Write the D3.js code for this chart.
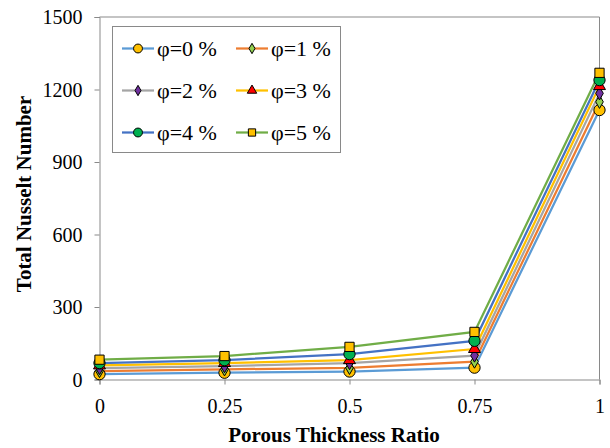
<!DOCTYPE html>
<html>
<head>
<meta charset="utf-8">
<script src="https://cdn.jsdelivr.net/npm/d3@7"></script>
</head>
<body style="margin:0;padding:0;background:#fff">
<svg id="chart" width="610" height="448" style="display:block"></svg>
<script>
// ---- data ----
const xValues = [0, 0.25, 0.5, 0.75, 1];
const xTickLabels = ["0", "0.25", "0.5", "0.75", "1"];
const yTicks = [0, 300, 600, 900, 1200, 1500];
const seriesNames = ["φ=0 %", "φ=1 %", "φ=2 %", "φ=3 %", "φ=4 %", "φ=5 %"];
const phi0 = [22, 28, 33, 49, 1115];
const phi1 = [35, 42, 48, 74, 1149];
const phi2 = [47, 55, 68, 99, 1184];
const phi3 = [58, 68, 80, 126, 1214];
const phi4 = [68, 80, 105, 160, 1239];
const phi5 = [82, 97, 135, 197, 1269];
const seriesValues = [phi0, phi1, phi2, phi3, phi4, phi5];
const lineColors = ["#5B9BD5", "#ED7D31", "#A5A5A5", "#FFC000", "#4472C4", "#70AD47"];
const markerFills = ["#FFC000", "#92D050", "#7030A0", "#FF0000", "#00B050", "#FFC000"];
const markerShapes = ["circle", "diamond", "diamond", "triangle", "circle", "square"];

// ---- layout ----
const FONT = "Liberation Serif";
const svg = d3.select("#chart");
const mLeft = 99.5, mRight = 599.5, mTop = 17, mBottom = 379.5;
const x = d3.scaleLinear().domain([0, 1]).range([mLeft, mRight]);
const y = d3.scaleLinear().domain([0, 1500]).range([mBottom, mTop]);

const symbolSizes = { circle: 100, diamond: 50, triangle: 62, square: 85 };
const symbolTypes = { circle: d3.symbolCircle, diamond: d3.symbolDiamond, triangle: d3.symbolTriangle, square: d3.symbolSquare };
const sym = (shape, k) => d3.symbol().type(symbolTypes[shape]).size(symbolSizes[shape] * k)();

// plot border (top & right)
svg.append("path")
  .attr("d", `M${mLeft},${mTop}H${mRight}V${mBottom}`)
  .attr("fill", "none").attr("stroke", "#898989").attr("stroke-width", 1);

// axes
const yAxis = d3.axisLeft(y).tickValues(yTicks).tickSize(5).tickPadding(12).tickFormat(d3.format("d"));
const gy = svg.append("g").attr("transform", `translate(${mLeft},0)`).call(yAxis)
  .attr("font-family", FONT).attr("font-size", 20);
gy.select(".domain").attr("stroke", "#898989");
gy.selectAll(".tick line").attr("stroke", "#898989");
gy.selectAll(".tick text").attr("font-family", FONT).attr("font-size", 20).attr("fill", "#000").attr("dy", "0.34em");

const xAxis = d3.axisBottom(x).tickValues(xValues).tickSize(5).tickPadding(14)
  .tickFormat((d, i) => xTickLabels[i]);
const gx = svg.append("g").attr("transform", `translate(0,${mBottom})`).call(xAxis)
  .attr("font-family", FONT).attr("font-size", 20);
gx.select(".domain").attr("stroke", "#898989");
gx.selectAll(".tick line").attr("stroke", "#898989");
gx.selectAll(".tick text").attr("font-family", FONT).attr("font-size", 20).attr("fill", "#000");

// axis titles
svg.append("text")
  .attr("x", 334).attr("y", 442)
  .attr("text-anchor", "middle")
  .attr("font-family", FONT).attr("font-size", 21).attr("font-weight", "bold")
  .text("Porous Thickness Ratio");
svg.append("text")
  .attr("transform", `translate(31,194) rotate(-90)`)
  .attr("text-anchor", "middle")
  .attr("font-family", FONT).attr("font-size", 21).attr("font-weight", "bold")
  .text("Total Nusselt Number");

// series lines
const line = d3.line().x((d, i) => x(xValues[i])).y(d => y(d));
seriesValues.forEach((vals, s) => {
  svg.append("path").datum(vals)
    .attr("d", line)
    .attr("fill", "none")
    .attr("stroke", lineColors[s])
    .attr("stroke-width", 2.25);
});
// markers (drawn after all lines)
seriesValues.forEach((vals, s) => {
  svg.append("g").selectAll("path").data(vals).join("path")
    .attr("d", sym(markerShapes[s], 1))
    .attr("transform", (d, i) => `translate(${x(xValues[i])},${y(d)})`)
    .attr("fill", markerFills[s])
    .attr("stroke", "#000").attr("stroke-width", 1);
});

// legend
const legend = svg.append("g");
legend.append("rect")
  .attr("x", 112.5).attr("y", 26.5).attr("width", 228).attr("height", 126)
  .attr("fill", "#fff").attr("stroke", "#898989").attr("stroke-width", 1);
const colX = [122, 236];
const rowY = [48.5, 90.5, 132.5];
seriesNames.forEach((name, s) => {
  const cx = colX[s % 2], cy = rowY[Math.floor(s / 2)];
  legend.append("line")
    .attr("x1", cx).attr("x2", cx + 32).attr("y1", cy).attr("y2", cy)
    .attr("stroke", lineColors[s]).attr("stroke-width", 2.25);
  legend.append("path")
    .attr("d", sym(markerShapes[s], 0.62))
    .attr("transform", `translate(${cx + 16},${cy})`)
    .attr("fill", markerFills[s]).attr("stroke", "#000").attr("stroke-width", 1);
  legend.append("text")
    .attr("x", cx + 35).attr("y", cy).attr("dy", "0.35em")
    .attr("font-family", FONT).attr("font-size", 22).attr("fill", "#000")
    .text(name);
});
</script>
</body>
</html>
